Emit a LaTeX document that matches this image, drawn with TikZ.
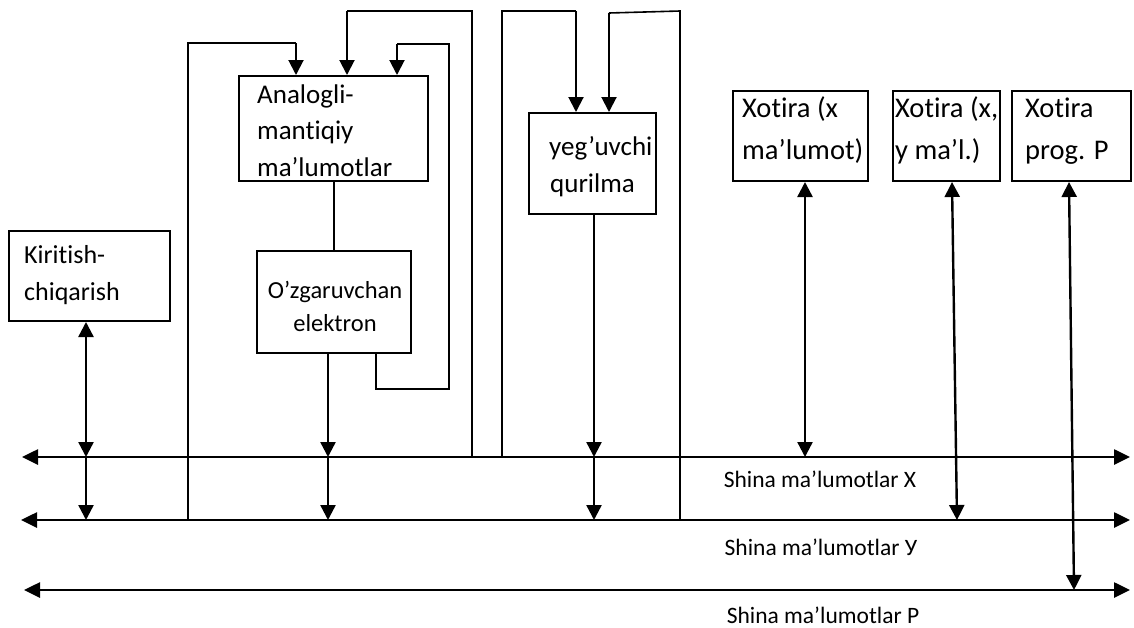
\documentclass[tikz,border=0pt]{standalone}
\usepackage{fontspec}
\setmainfont{Carlito}[Ligatures=NoCommon]
\usetikzlibrary{arrows.meta}
\begin{document}
\begin{tikzpicture}[x=1pt,y=-1pt,
  box/.style={draw, line width=2pt, rectangle, inner sep=0pt},
  bus/.style={line width=2.6pt, {Triangle[length=16pt,width=15pt]}-{Triangle[length=16pt,width=15pt]}},
  wire/.style={line width=2.4pt},
  feed/.style={line width=2pt},
  thinfeed/.style={line width=1.6pt},
  tip/.style={-{Triangle[length=15pt,width=15pt]}},
  tips/.style={{Triangle[length=15pt,width=15pt]}-{Triangle[length=15pt,width=15pt]}},
  big/.style={inner sep=0pt, anchor=base west, font=\fontsize{27}{30}\selectfont},
  mem/.style={inner sep=0pt, anchor=base west, font=\fontsize{28.5}{32}\selectfont},
  mid/.style={inner sep=0pt, anchor=base, font=\fontsize{24.5}{28}\selectfont},
  lbl/.style={inner sep=0pt, anchor=base, font=\fontsize{23.5}{26}\selectfont}]
\useasboundingbox (0,0) rectangle (1134,627);

% buses
\coordinate (xL) at (22,457);  \coordinate (xR) at (1130,457);
\coordinate (yL) at (21,520);  \coordinate (yR) at (1130,520);
\coordinate (pL) at (24,590);  \coordinate (pR) at (1130,590);
\draw[bus] (xL) -- (xR);
\draw[bus] (yL) -- (yR);
\draw[bus] (pL) -- (pR);
\node[lbl] (lx) at (820,487) {Shina ma’lumotlar X};
\node[lbl] (ly) at (821,555) {Shina ma’lumotlar У};
\node[lbl] (lp) at (823,623) {Shina ma’lumotlar P};

% blocks
\node[box, minimum width=161pt, minimum height=90pt]  (kir) at (89.5,276) {};
\node[box, minimum width=189pt, minimum height=105pt] (ana) at (333.5,128.5) {};
\node[box, minimum width=154pt, minimum height=102pt] (ozg) at (334,302) {};
\node[box, minimum width=127pt, minimum height=101pt] (yeg) at (592.5,163.5) {};
\node[box, minimum width=135pt, minimum height=90pt]  (xo1) at (800.5,136) {};
\node[box, minimum width=107pt, minimum height=90pt]  (xo2) at (946.5,136) {};
\node[box, minimum width=119pt, minimum height=90pt]  (xo3) at (1071.5,136) {};

% block texts
\node[big, font=\fontsize{26}{30}\selectfont] (t1) at (24,263) {Kiritish-};
\node[big, font=\fontsize{26}{30}\selectfont] (t2) at (24,300) {chiqarish};
\node[big] (t3) at (257,103) {Analogli-};
\node[big] (t4) at (257,139) {mantiqiy};
\node[big] (t5) at (257,176) {ma’lumotlar};
\node[mid] (t6) at (335,298) {O’zgaruvchan};
\node[mid] (t7) at (335,331) {elektron};
\node[big] (t8) at (549,155) {yeg’uvchi};
\node[big] (t9) at (550,192) {qurilma};
\node[mem] (t10) at (742,117) {Xotira (x};
\node[mem] (t11) at (742,159) {ma’lumot)};
\node[mem] (t12) at (895,117) {Xotira (x,};
\node[mem] (t13) at (895,159) {y ma’l.)};
\node[mem] (t14) at (1025,117) {Xotira};
\node[mem] (t15) at (1025,159) {prog. P};

% input/output to the buses
\coordinate (kx) at (86,457);
\draw[wire,tips] (kx |- kir.south) -- (kx);
\draw[wire,tip] (kx) -- (kx |- yL);

% converter to the buses
\draw[feed] (ana.south) -- (ana.south |- ozg.north);
\coordinate (ox) at (328,457);
\draw[wire,tip] (ox |- ozg.south) -- (ox);
\draw[wire,tip] (ox) -- (ox |- yL);

% adder to the buses
\coordinate (gx) at (594,457);
\draw[wire,tip] (gx |- yeg.south) -- (gx);
\draw[wire,tip] (gx) -- (gx |- yL);

% memories
\coordinate (m1) at (805,457);
\coordinate (m2) at (957,520);
\coordinate (m3) at (1074,590);
\draw[wire,tips] (m1 |- xo1.south) -- (m1);
\draw[wire,tips] ([xshift=5.5pt]xo2.south) -- (m2);
\draw[wire,tips] ([xshift=-2.5pt]xo3.south) -- (m3);

% feedback lines into the analog-logic block
\coordinate (f1) at (188,520);
\coordinate (a1) at (296,43);
\draw[thinfeed] (f1) |- (a1);
\draw[feed,tip] (a1) -- (a1 |- ana.north);

\coordinate (f2) at (472,457);
\coordinate (a2) at (347,11);
\draw[thinfeed] (f2) |- (a2);
\draw[feed,tip] (a2) -- (a2 |- ana.north);

\coordinate (r3) at (449,389);
\coordinate (a3) at (397,44);
\draw[thinfeed] ([xshift=42pt]ozg.south) |- (r3) -- (r3 |- a3) -- (a3);
\draw[feed,tip] (a3) -- (a3 |- ana.north);

% feedback lines into the adder
\coordinate (f4) at (502,457);
\coordinate (a4) at (576,11);
\draw[thinfeed] (f4) |- (a4);
\draw[feed,tip] (a4) -- (a4 |- yeg.north);

\coordinate (f5) at (680,520);
\coordinate (c5) at (680,11);
\coordinate (a5) at (609,13);
\draw[thinfeed] (f5) -- (c5) -- (a5);
\draw[feed,tip] (a5) -- (a5 |- yeg.north);
\end{tikzpicture}
\end{document}
